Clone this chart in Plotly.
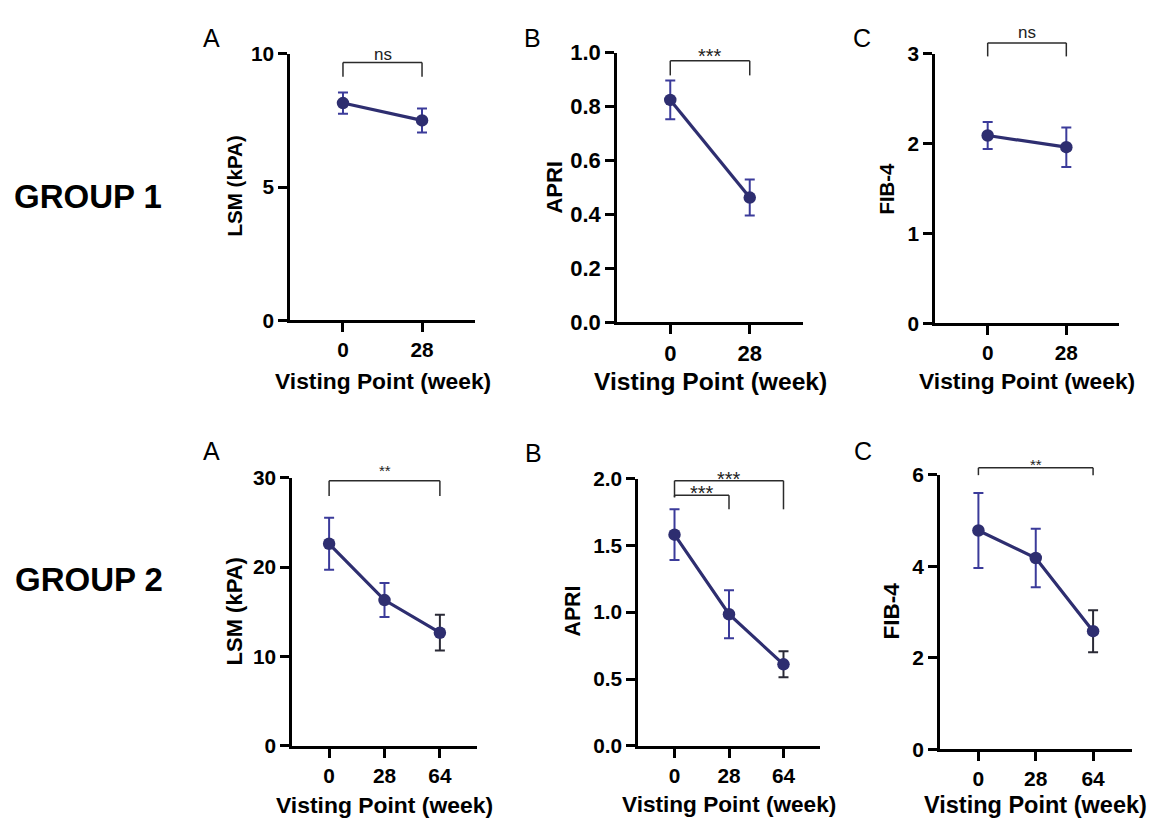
import plotly.graph_objects as go

W, H = 1149, 834
FONT = "Liberation Sans, Arial, sans-serif"

# ---------------- data ----------------
weeks_g1 = ["0", "28"]
weeks_g2 = ["0", "28", "64"]

lsm_g1 = [8.15, 7.50]
lsm_g1_err = [0.40, 0.45]
apri_g1 = [0.825, 0.463]
apri_g1_err = [0.072, 0.067]
fib4_g1 = [2.09, 1.96]
fib4_g1_err = [0.15, 0.22]

lsm_g2 = [22.6, 16.3, 12.65]
lsm_g2_err = [2.9, 1.9, 2.0]
apri_g2 = [1.58, 0.985, 0.61]
apri_g2_err = [0.19, 0.18, 0.097]
fib4_g2 = [4.78, 4.18, 2.58]
fib4_g2_err = [0.82, 0.64, 0.46]

lsm_g1_ticks = [0, 5, 10]
apri_g1_ticks = [0.0, 0.2, 0.4, 0.6, 0.8, 1.0]
fib4_g1_ticks = [0, 1, 2, 3]
lsm_g2_ticks = [0, 10, 20, 30]
apri_g2_ticks = [0.0, 0.5, 1.0, 1.5, 2.0]
fib4_g2_ticks = [0, 2, 4, 6]

# significance brackets: (from idx, to idx, bar y, left leg end, right leg end, label)
sig_lsm_g1 = [(0, 1, 9.67, 9.14, 9.14, "ns")]
sig_apri_g1 = [(0, 1, 0.97, 0.916, 0.916, "***")]
sig_fib4_g1 = [(0, 1, 3.12, 2.97, 2.97, "ns")]
sig_lsm_g2 = [(0, 2, 29.65, 27.95, 27.95, "**")]
sig_apri_g2 = [(0, 2, 1.984, 1.86, 1.77, "***"), (0, 1, 1.875, 1.86, 1.77, "***")]
sig_fib4_g2 = [(0, 2, 6.15, 5.99, 5.99, "**")]

LINE_COL = "#2e2e70"
ERR_COL = "#3b3b9a"
ERR_DARK = "#2a2a36"

panels = [
    dict(weeks=weeks_g1, y=lsm_g1, e=lsm_g1_err, ticks=lsm_g1_ticks, fmt="{:g}", title="LSM (kPA)",
         xpx=(290, 475), ypx=(43, 318), sig=sig_lsm_g1, dark_last=False,
         letter=("A", 212, 27), ytit=(235, 180), xtit_y=380, shifts=[8],
         fs=dict(tick=20.8, yt=20.6, xt=22.8)),
    dict(weeks=weeks_g1, y=apri_g1, e=apri_g1_err, ticks=apri_g1_ticks, fmt="{:.1f}", title="APRI",
         xpx=(617, 803), ypx=(42, 320), sig=sig_apri_g1, dark_last=False,
         letter=("B", 532, 27), ytit=(555, 181), xtit_y=381, shifts=[5],
         fs=dict(tick=22, yt=22, xt=24.6)),
    dict(weeks=weeks_g1, y=fib4_g1, e=fib4_g1_err, ticks=fib4_g1_ticks, fmt="{:g}", title="FIB-4",
         xpx=(935, 1119), ypx=(43, 321), sig=sig_fib4_g1, dark_last=False,
         letter=("C", 862, 27), ytit=(887, 182), xtit_y=380, shifts=[10],
         fs=dict(tick=20.8, yt=20.4, xt=22.8)),
    dict(weeks=weeks_g2, y=lsm_g2, e=lsm_g2_err, ticks=lsm_g2_ticks, fmt="{:g}", title="LSM (kPA)",
         xpx=(292, 477), ypx=(480, 756.5), sig=sig_lsm_g2, dark_last=True,
         letter=("A", 211, 453), ytit=(234, 618), xtit_y=817, shifts=[10],
         fs=dict(tick=20.8, yt=22, xt=22.9)),
    dict(weeks=weeks_g2, y=apri_g2, e=apri_g2_err, ticks=apri_g2_ticks, fmt="{:.1f}", title="APRI",
         xpx=(638, 820), ypx=(481, 756.5), sig=sig_apri_g2, dark_last=True,
         letter=("B", 533, 455), ytit=(573, 618), xtit_y=817, shifts=[2, 2],
         fs=dict(tick=20.8, yt=21.3, xt=22.6)),
    dict(weeks=weeks_g2, y=fib4_g2, e=fib4_g2_err, ticks=fib4_g2_ticks, fmt="{:g}", title="FIB-4",
         xpx=(940, 1131.5), ypx=(477, 760), sig=sig_fib4_g2, dark_last=True,
         letter=("C", 863, 453), ytit=(891, 618), xtit_y=817, shifts=[3],
         fs=dict(tick=21, yt=22.5, xt=23.5)),
]

fig = go.Figure()
shapes = []
annotations = []
PAD = 0.67

for i, p in enumerate(panels, start=1):
    xa = "x" if i == 1 else f"x{i}"
    ya = "y" if i == 1 else f"y{i}"
    n = len(p["weeks"])
    xs = list(range(n))
    xr = [-PAD, n - 1 + PAD]
    yr = [p["ticks"][0], p["ticks"][-1]]
    fs = p["fs"]

    # error bars (blue; last one dark in group 2)
    blue_idx = xs[:-1] if p["dark_last"] else xs
    dark_idx = xs[-1:] if p["dark_last"] else []
    for idx, col in ((blue_idx, ERR_COL), (dark_idx, ERR_DARK)):
        if not idx:
            continue
        fig.add_trace(go.Scatter(
            x=[xs[k] for k in idx], y=[p["y"][k] for k in idx], mode="markers",
            marker=dict(size=1, color=LINE_COL),
            error_y=dict(type="data", array=[p["e"][k] for k in idx], visible=True,
                         color=col, thickness=2, width=5),
            xaxis=xa, yaxis=ya, cliponaxis=False, hoverinfo="skip"))
    fig.add_trace(go.Scatter(
        x=xs, y=p["y"], mode="lines+markers",
        line=dict(color=LINE_COL, width=3.2),
        marker=dict(size=12.5, color=LINE_COL),
        xaxis=xa, yaxis=ya, cliponaxis=False))

    x0, x1 = p["xpx"]
    yt, yb = p["ypx"]
    axis_common = dict(showline=True, linecolor="black", linewidth=2.5, ticks="outside",
                       ticklen=9, tickwidth=2.5, tickcolor="black", showgrid=False,
                       zeroline=False,
                       tickfont=dict(family=FONT, size=fs["tick"], color="black", weight="bold"))
    fig.update_layout(**{
        ("xaxis" if i == 1 else f"xaxis{i}"): dict(
            domain=[x0 / W, x1 / W], range=xr, tickvals=xs, ticktext=p["weeks"],
            anchor=ya, **axis_common),
        ("yaxis" if i == 1 else f"yaxis{i}"): dict(
            domain=[1 - yb / H, 1 - yt / H], range=yr, tickvals=p["ticks"],
            ticktext=[p["fmt"].format(t) for t in p["ticks"]], anchor=xa, **axis_common),
    })

    # brackets in axis-domain coordinates (so they may extend above the axis)
    def fx(v):
        return (v - xr[0]) / (xr[1] - xr[0])

    def fy(v):
        return (v - yr[0]) / (yr[1] - yr[0])

    for (a, b, ybar, yl, yrr, lab), sh in zip(p["sig"], p["shifts"]):
        ln = dict(color="#2b2b2b", width=1.5)
        for (xa0, ya0, xa1, ya1) in ((a, yl, a, ybar), (a, ybar, b, ybar), (b, ybar, b, yrr)):
            shapes.append(dict(type="line", xref=f"{xa} domain", yref=f"{ya} domain",
                               x0=fx(xa0), y0=fy(ya0), x1=fx(xa1), y1=fy(ya1), line=ln))
        size = 17 if lab == "ns" else (20 if lab == "***" else 15)
        annotations.append(dict(text=lab, xref=f"{xa} domain", yref=f"{ya} domain",
                                x=fx((a + b) / 2), y=fy(ybar), xanchor="center", yanchor="middle",
                                yshift=sh, showarrow=False,
                                font=dict(family=FONT, size=size, color="#222")))

    # panel letter
    L, lx, ly = p["letter"]
    annotations.append(dict(text=L, xref="paper", yref="paper", x=lx / W, y=1 - ly / H,
                            xanchor="center", yanchor="middle", showarrow=False,
                            font=dict(family=FONT, size=25, color="black")))
    # y title
    tx, ty = p["ytit"]
    annotations.append(dict(text=f"<b>{p['title']}</b>", xref="paper", yref="paper", x=tx / W,
                            y=1 - ty / H, xanchor="center", yanchor="middle", textangle=-90,
                            showarrow=False, font=dict(family=FONT, size=fs["yt"], color="black")))
    # x title
    annotations.append(dict(text="<b>Visting Point (week)</b>", xref="paper", yref="paper",
                            x=(x0 + x1) / 2 / W, y=1 - p["xtit_y"] / H, xanchor="center",
                            yanchor="middle", showarrow=False,
                            font=dict(family=FONT, size=fs["xt"], color="black")))

for label, gx, gy in (("GROUP 1", 88, 190), ("GROUP 2", 89, 585)):
    annotations.append(dict(text=f"<b>{label}</b>", xref="paper", yref="paper", x=gx / W,
                            y=1 - gy / H, xanchor="center", yanchor="middle", showarrow=False,
                            font=dict(family=FONT, size=33, color="black")))

fig.update_layout(width=W, height=H, margin=dict(l=0, r=0, t=0, b=0),
                  paper_bgcolor="white", plot_bgcolor="white", showlegend=False,
                  shapes=shapes, annotations=annotations)

fig.write_html("out.html")
